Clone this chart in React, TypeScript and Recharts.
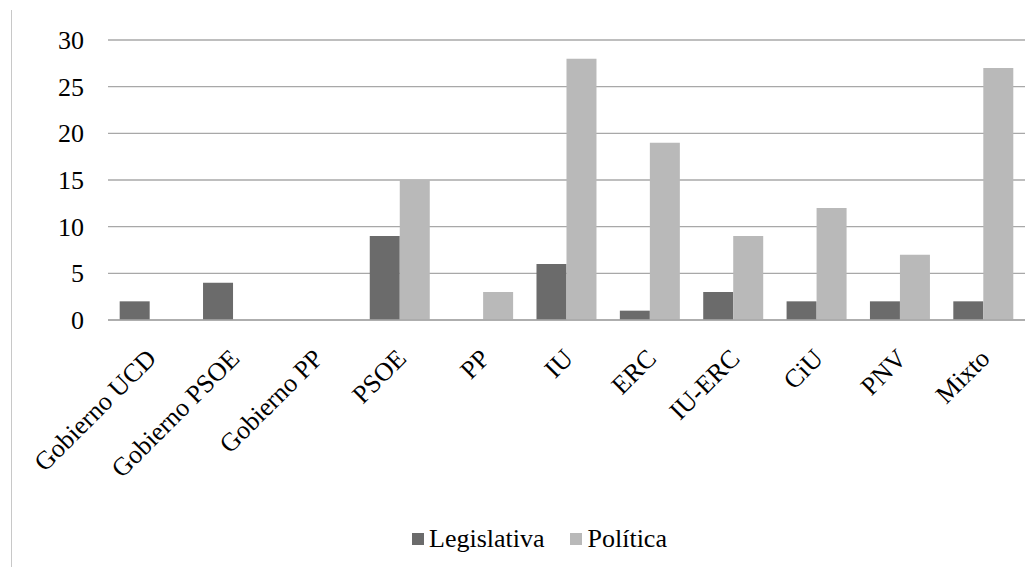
import React from 'react';
import { BarChart, Bar, XAxis, YAxis, CartesianGrid } from 'recharts';

const categories = ['Gobierno UCD', 'Gobierno PSOE', 'Gobierno PP', 'PSOE', 'PP', 'IU', 'ERC', 'IU-ERC', 'CiU', 'PNV', 'Mixto'];
const legislativa = [2, 4, 0, 9, 0, 6, 1, 3, 2, 2, 2];
const politica = [0, 0, 0, 15, 3, 28, 19, 9, 12, 7, 27];
const yTicks = [0, 5, 10, 15, 20, 25, 30];

const DARK = '#6b6b6b';
const LIGHT = '#b9b9b9';
const FONT = 'Liberation Serif';

const data = categories.map((name, i) => ({
  name,
  Legislativa: legislativa[i],
  Política: politica[i],
}));

// rotated category labels, anchored at the end of the text
const AngledTick = (props: any) => {
  const { x, y, payload } = props;
  return (
    <g transform={`translate(${x + 8},${y + 32})`}>
      <text
        x={0}
        y={0}
        textAnchor="end"
        transform="rotate(-45)"
        fill="#000"
        fontSize={26}
        style={{ fontFamily: FONT }}
      >
        {payload.value}
      </text>
    </g>
  );
};

const YTick = (props: any) => {
  const { x, y, payload } = props;
  return (
    <text x={x} y={y} dy={9} textAnchor="end" fill="#000" fontSize={26} style={{ fontFamily: FONT }}>
      {payload.value}
    </text>
  );
};

const App: React.FC = () => {
  return (
    <div style={{ position: 'absolute', left: 0, top: 0, width: 1025, height: 567, background: '#fff', fontFamily: FONT }}>
      <div style={{ position: 'absolute', left: 11, top: 10, width: 1, height: 557, background: '#c8c8c8' }} />
      <BarChart
        width={1025}
        height={567}
        data={data}
        margin={{ top: 40, right: 0, left: 11, bottom: 0 }}
        barCategoryGap="14%"
        barGap={0}
        style={{ fontFamily: FONT }}
      >
        <CartesianGrid vertical={false} stroke="#a8a8a8" strokeWidth={1.3} />
        <XAxis
          dataKey="name"
          interval={0}
          height={247}
          tickLine={false}
          axisLine={{ stroke: '#a8a8a8', strokeWidth: 1.3 }}
          tick={<AngledTick />}
        />
        <YAxis
          width={97}
          domain={[0, 30]}
          ticks={yTicks}
          axisLine={false}
          tickLine={false}
          tickMargin={18}
          tick={<YTick />}
        />
        <Bar dataKey="Legislativa" fill={DARK} isAnimationActive={false} />
        <Bar dataKey="Política" fill={LIGHT} isAnimationActive={false} />
      </BarChart>
      <div
        style={{
          position: 'absolute',
          left: 412,
          top: 524,
          display: 'flex',
          alignItems: 'center',
          fontFamily: FONT,
          fontSize: 26,
          color: '#000',
        }}
      >
        <span style={{ width: 12, height: 12, background: DARK, display: 'inline-block', marginRight: 5 }} />
        <span style={{ marginRight: 25 }}>Legislativa</span>
        <span style={{ width: 12, height: 12, background: LIGHT, display: 'inline-block', marginRight: 6 }} />
        <span>Política</span>
      </div>
    </div>
  );
};

export default App;
